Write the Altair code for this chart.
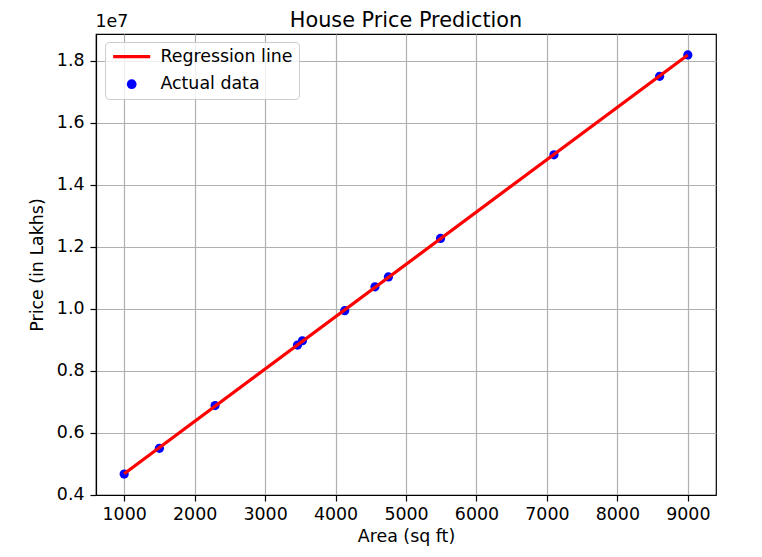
import pandas as pd
import altair as alt

# data
area = [1000, 1500, 2290, 3460, 3530, 4130, 4560, 4750, 5490, 7100, 8600, 9000]
price = [4660000, 5490000, 6870000, 8820000, 8960000, 9930000, 10700000,
         11020000, 12260000, 14960000, 17490000, 18180000]
x_ticks = [1000, 2000, 3000, 4000, 5000, 6000, 7000, 8000, 9000]
y_ticks = [4000000, 6000000, 8000000, 10000000, 12000000, 14000000, 16000000, 18000000]
series_names = ["Regression line", "Actual data"]
series_colors = ["#ff0000", "#0000ff"]
offset_label = ["1e7"]
chart_title = ["House Price Prediction"]

FONT = "DejaVu Sans"
FS = 17.4        # 10pt at this figure's resolution
W, H = 620, 461
# thin bar used as the legend symbol of the regression line
LINE_PATH = "M-3.8,-0.33H3.8V0.33H-3.8Z"

df = pd.DataFrame({"area": area, "price": price, "series": series_names[1]})

x_enc = alt.X("area:Q", title="Area (sq ft)",
              scale=alt.Scale(domain=[600, 9400], nice=False, zero=False),
              axis=alt.Axis(values=x_ticks, format="d"))
y_enc = alt.Y("price:Q", title="Price (in Lakhs)",
              scale=alt.Scale(domain=[3984000, 18856000], nice=False, zero=False),
              axis=alt.Axis(values=y_ticks, labelExpr="format(datum.value / 1e7, '.1f')"))

legend = alt.Legend(
    title=None, orient="none", legendX=9, legendY=8,
    padding=6, symbolSize=95, symbolOffset=12, labelOffset=20,
    rowPadding=8.5, fillColor="rgba(255,255,255,0.8)", strokeColor="#cccccc",
    cornerRadius=4, labelFontSize=FS, labelFont=FONT, labelColor="#000000",
    symbolOpacity=1, symbolStrokeWidth=0,
)

points = alt.Chart(df).mark_point(filled=True, size=85, opacity=1).encode(
    x=x_enc,
    y=y_enc,
    color=alt.Color("series:N", scale=alt.Scale(domain=series_names, range=series_colors),
                    legend=legend),
    shape=alt.Shape("series:N", scale=alt.Scale(domain=series_names, range=[LINE_PATH, "circle"]),
                    legend=legend),
)

reg_line = alt.Chart(df).mark_line(color="#ff0000", strokeWidth=3.2).transform_regression(
    "area", "price"
).encode(x=x_enc, y=y_enc)

offset_text = alt.Chart(pd.DataFrame({"t": offset_label})).mark_text(
    align="left", baseline="alphabetic", fontSize=FS, font=FONT, color="#000000"
).encode(text="t:N", x=alt.value(-0.5), y=alt.value(-7.5))

# title kept a little lower than the reference so it stays inside the svg
title_text = alt.Chart(pd.DataFrame({"t": chart_title})).mark_text(
    align="center", baseline="alphabetic", fontSize=20.8, font=FONT, color="#000000"
).encode(text="t:N", x=alt.value(W / 2), y=alt.value(-7.5))

chart = alt.layer(points, reg_line, offset_text, title_text).properties(
    width=W, height=H,
    autosize=alt.AutoSizeParams(type="none"),
    padding={"left": 88, "top": 26, "right": 38, "bottom": 52},
).configure(font=FONT).configure_view(
    stroke="#000000", strokeWidth=1.2
).configure_axis(
    labelFont=FONT, labelFontSize=FS, labelColor="#000000",
    titleFont=FONT, titleFontSize=FS, titleFontWeight="normal", titleColor="#000000",
    tickColor="#000000", tickSize=6, tickWidth=1.2, labelPadding=4,
    domainColor="#000000", domainWidth=1.2, gridColor="#b0b0b0", gridWidth=1.2,
).configure_axisX(titlePadding=5).configure_axisY(titlePadding=10, labelPadding=6)

chart.save("out.html", embed_options={"renderer": "svg", "actions": False})
